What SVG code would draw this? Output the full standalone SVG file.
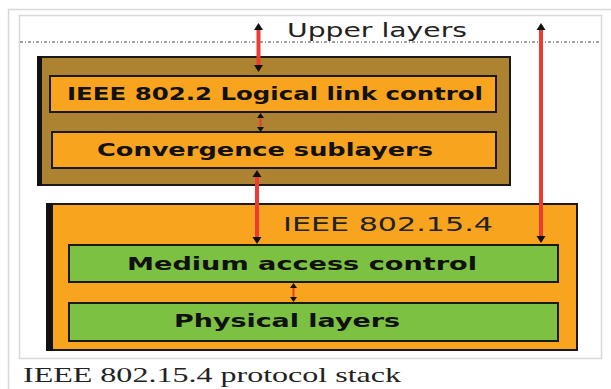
<svg xmlns="http://www.w3.org/2000/svg" width="611" height="389" viewBox="0 0 611 389">
<defs>
<style>
.frame{fill:none;stroke:#d6d8db;stroke-width:1.5}
.box{stroke:#1a1a1a;stroke-width:2}
.lbl{font-family:"DejaVu Sans","Liberation Sans",sans-serif;font-weight:bold;font-size:17px;fill:#111}
.reg{font-family:"DejaVu Sans","Liberation Sans",sans-serif;font-size:20px;fill:#222}
.cap{font-family:"Liberation Serif","DejaVu Serif",serif;font-size:21px;fill:#222}
.red{stroke:#ec3b33;stroke-width:4;fill:none}
.redthin{stroke:#ec3b33;stroke-width:2;fill:none}
</style>
<marker id="ah" viewBox="0 -5 7 10" refX="0" refY="0" markerWidth="7" markerHeight="10" markerUnits="userSpaceOnUse" orient="auto-start-reverse">
<path d="M0,-4.5 L7,0 L0,4.5 Z" fill="#111"/>
</marker>
<marker id="ahs" viewBox="0 -4 5 8" refX="0" refY="0" markerWidth="5" markerHeight="8" markerUnits="userSpaceOnUse" orient="auto-start-reverse">
<path d="M0,-3.5 L5,0 L0,3.5 Z" fill="#111"/>
</marker>
</defs>
<rect width="611" height="389" fill="#ffffff"/>
<g id="frame">
<rect class="frame" x="8.5" y="9.5" width="620" height="400"/>
<rect class="frame" x="19.5" y="15.5" width="582" height="343"/>
<line x1="20" y1="42" x2="601" y2="42" stroke="#444" stroke-width="1.2" stroke-dasharray="3,2,1,2"/>
</g>
<g id="upper-layers">
<text class="reg" x="287" y="37" textLength="180" lengthAdjust="spacingAndGlyphs">Upper layers</text>
</g>
<g id="llc-group">
<rect x="38" y="57" width="472" height="128" fill="#ad8231" class="box"/>
<rect x="37" y="56" width="5" height="130" fill="#111"/>
</g>
<g id="llc">
<rect class="box" x="50" y="76" width="446" height="36" fill="#f8a41e"/>
<text class="lbl" x="67" y="100" textLength="416" lengthAdjust="spacingAndGlyphs">IEEE 802.2 Logical link control</text>
</g>
<g id="convergence">
<rect class="box" x="52" y="132" width="444" height="36" fill="#f8a41e"/>
<text class="lbl" x="97" y="156" textLength="336" lengthAdjust="spacingAndGlyphs">Convergence sublayers</text>
</g>
<g id="ieee802154">
<rect x="48" y="204" width="529" height="146" fill="#f8a41e" class="box"/>
<rect x="46" y="203" width="7" height="148" fill="#111"/>
<text class="reg" x="283" y="231" font-size="17" textLength="210" lengthAdjust="spacingAndGlyphs">IEEE 802.15.4</text>
</g>
<g id="mac">
<rect class="box" x="69" y="245" width="489" height="37" fill="#7cc142"/>
<text class="lbl" x="127" y="270" font-size="19" textLength="350" lengthAdjust="spacingAndGlyphs">Medium access control</text>
</g>
<g id="phy">
<rect class="box" x="69" y="303" width="489" height="38" fill="#7cc142"/>
<text class="lbl" x="174" y="327" font-size="19" textLength="226" lengthAdjust="spacingAndGlyphs">Physical layers</text>
</g>
<g id="connectors">
<line class="red" x1="258.5" y1="30" x2="258.5" y2="65" marker-start="url(#ah)" marker-end="url(#ah)"/>
<line class="redthin" x1="260.5" y1="118" x2="260.5" y2="127" marker-start="url(#ahs)" marker-end="url(#ahs)"/>
<line class="red" x1="257" y1="177" x2="257" y2="237" marker-start="url(#ah)" marker-end="url(#ah)"/>
<line class="red" x1="541" y1="30" x2="541" y2="236" marker-start="url(#ah)" marker-end="url(#ah)"/>
<line class="redthin" x1="293.5" y1="288" x2="293.5" y2="297" marker-start="url(#ahs)" marker-end="url(#ahs)"/>
</g>
<g id="caption">
<text class="cap" x="23" y="382" textLength="378" lengthAdjust="spacingAndGlyphs">IEEE 802.15.4 protocol stack</text>
</g>
</svg>
